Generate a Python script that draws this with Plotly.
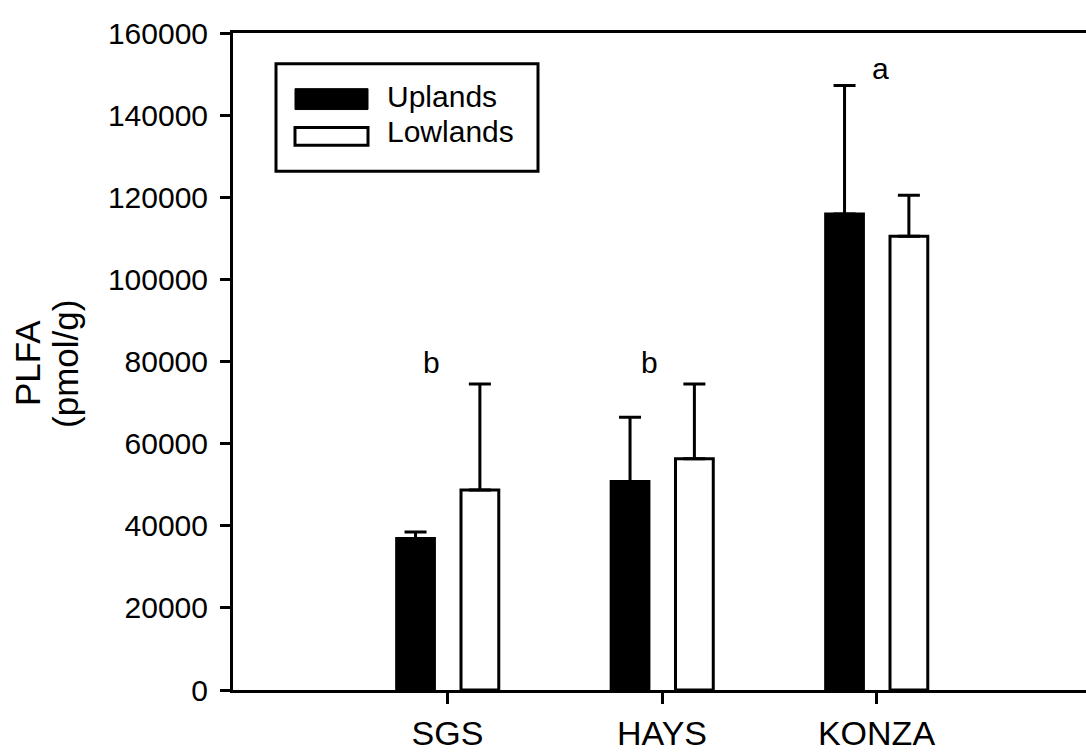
import plotly.graph_objects as go

# ---- data ----
categories = ["SGS", "HAYS", "KONZA"]
series_names = ["Uplands", "Lowlands"]
uplands = [36900, 50800, 115900]
uplands_err = [1600, 15600, 31300]
lowlands = [48700, 56300, 110500]
lowlands_err = [25800, 18200, 10000]
letters = ["b", "b", "a"]
letter_x = [0.925, 1.944, 3.02]
letter_y = [79800, 79800, 151300]
y_ticks = [0, 20000, 40000, 60000, 80000, 100000, 120000, 140000, 160000]

W, H = 1086, 752
L, R, T, B = 233, 0, 33, 58
pw, ph = W - L - R, H - T - B
FONT = "Liberation Sans, Arial, sans-serif"

xpos = list(range(1, len(categories) + 1))

fig = go.Figure()
fig.add_trace(go.Bar(
    x=xpos, y=uplands, name=series_names[0],
    width=0.176, offset=-0.237,
    marker=dict(color="black", line=dict(color="black", width=3)),
    error_y=dict(type="data", array=uplands_err, arrayminus=[0] * 3, symmetric=False,
                 color="black", thickness=3, width=11),
))
fig.add_trace(go.Bar(
    x=xpos, y=lowlands, name=series_names[1],
    width=0.176, offset=0.063,
    marker=dict(color="white", line=dict(color="black", width=3)),
    error_y=dict(type="data", array=lowlands_err, arrayminus=[0] * 3, symmetric=False,
                 color="black", thickness=3, width=11),
))


def px2x(px):
    return (px - L) / pw


def px2y(py):
    return (H - B - py) / ph


shapes = [
    # legend frame
    dict(type="rect", xref="paper", yref="paper", x0=px2x(276), x1=px2x(538),
         y0=px2y(172), y1=px2y(64), line=dict(color="black", width=3), fillcolor="white"),
    dict(type="rect", xref="paper", yref="paper", x0=px2x(295), x1=px2x(368),
         y0=px2y(110), y1=px2y(89), line=dict(color="black", width=1), fillcolor="black"),
    dict(type="rect", xref="paper", yref="paper", x0=px2x(295), x1=px2x(368),
         y0=px2y(146), y1=px2y(128), line=dict(color="black", width=3), fillcolor="white"),
]

annotations = [
    dict(text=series_names[0], xref="paper", yref="paper", x=px2x(385), y=px2y(97),
         xanchor="left", yanchor="middle", showarrow=False, font=dict(size=30, family=FONT, color="black")),
    dict(text=series_names[1], xref="paper", yref="paper", x=px2x(385), y=px2y(132),
         xanchor="left", yanchor="middle", showarrow=False, font=dict(size=30, family=FONT, color="black")),
    dict(text="PLFA", xref="paper", yref="paper", x=px2x(28), y=px2y(365),
         xanchor="center", yanchor="middle", textangle=-90, showarrow=False,
         font=dict(size=35, family=FONT, color="black")),
    dict(text="(pmol/g)", xref="paper", yref="paper", x=px2x(66), y=px2y(366),
         xanchor="center", yanchor="middle", textangle=-90, showarrow=False,
         font=dict(size=35, family=FONT, color="black")),
]
for t, lx, ly in zip(letters, letter_x, letter_y):
    annotations.append(dict(text=t, x=lx, y=ly, xref="x", yref="y", showarrow=False,
                            xanchor="center", yanchor="middle",
                            font=dict(size=30, family=FONT, color="black")))

fig.update_layout(
    width=W, height=H,
    margin=dict(l=L, r=R, t=T, b=B, pad=0),
    paper_bgcolor="white", plot_bgcolor="white",
    barmode="overlay", showlegend=False,
    font=dict(family=FONT, color="black"),
    shapes=shapes, annotations=annotations,
    xaxis=dict(range=[0, pw / 214.5], tickvals=xpos, ticktext=categories,
               showgrid=False, zeroline=False, showline=True, linecolor="black",
               linewidth=3, mirror=True, ticks="outside", ticklen=11, tickwidth=3,
               tickcolor="black", tickfont=dict(size=34, family=FONT, color="black")),
    yaxis=dict(range=[0, 160000], tickvals=y_ticks, tickformat="d",
               showgrid=False, zeroline=False, showline=True, linecolor="black",
               linewidth=3, mirror=False, ticks="outside", ticklen=10, tickwidth=3,
               tickcolor="black", ticklabelstandoff=6,
               tickfont=dict(size=30, family=FONT, color="black")),
)

fig.write_html("out.html")
